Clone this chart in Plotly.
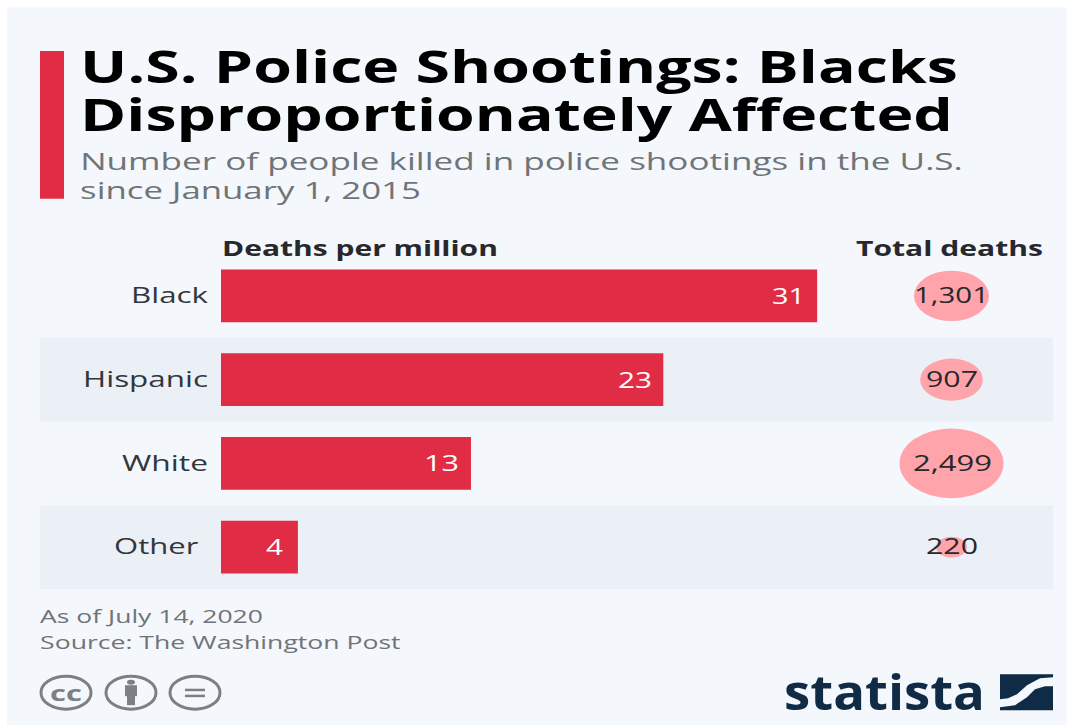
import json
import plotly.graph_objects as go

categories = ["Black", "Hispanic", "White", "Other"]
deaths_per_million = [31, 23, 13, 4]
total_deaths = [1301, 907, 2499, 220]
title_lines = ["U.S. Police Shootings: Blacks", "Disproportionately Affected"]
subtitle_lines = ["Number of people killed in police shootings in the U.S.", "since January 1, 2015"]

W, H = 1067, 726
L, R, T, B = 221, 1053, 253.5, 589.5
FONT = "Open Sans"
RED = "#e02d45"
PINK = "#ffa4ab"
NAVY = "#0f2b46"
GREY = "#7d8082"
CARD = "#f4f7fb"
BAND = "#ebf0f6"

def px(x):
    return (x - L) / (R - L)

def py(y):
    return (B - y) / (B - T)

def rect(x0, y0, x1, y1, color, layer="below"):
    return dict(type="rect", xref="paper", yref="paper", x0=px(x0), x1=px(x1), y0=py(y0), y1=py(y1),
                fillcolor=color, line_width=0, layer=layer)

def circle(x0, y0, x1, y1):
    return dict(type="circle", xref="paper", yref="paper", x0=px(x0), x1=px(x1), y0=py(y0), y1=py(y1),
                fillcolor="rgba(0,0,0,0)", line=dict(color=GREY, width=3), layer="above")

def path(points, color):
    d = "M" + " L".join(f"{px(a):.5f},{py(b):.5f}" for a, b in points) + " Z"
    return dict(type="path", xref="paper", yref="paper", path=d, fillcolor=color, line_width=0, layer="above")

def label(x, y, text, size, color, bold=False, anchor="left", family=FONT):
    return dict(xref="paper", yref="paper", x=px(x), y=py(y), text=f"<b>{text}</b>" if bold else text,
                showarrow=False, xanchor=anchor, yanchor="middle",
                font=dict(family=family, size=size, color=color))

fig = go.Figure()
fig.add_trace(go.Bar(
    x=deaths_per_million, y=categories, orientation="h",
    marker=dict(color=RED, line_width=0),
    text=[str(v) for v in deaths_per_million], textposition="inside",
    insidetextanchor="end", constraintext="none", textangle=0,
    textfont=dict(family=FONT, size=21, color="white"), xaxis="x", yaxis="y", showlegend=False,
))
fig.add_trace(go.Scatter(
    x=[0] * 4, y=categories, mode="text", text=[f"{v:,}" for v in total_deaths],
    textposition="middle center", textfont=dict(family=FONT, size=21, color="#26282b"),
    xaxis="x2", yaxis="y", showlegend=False,
))

shapes = [rect(7, 6, 1067, 726, CARD), rect(40, 50, 64, 198, RED)]
for i in (1, 3):
    shapes.append(dict(type="rect", xref="paper", yref="y", x0=px(40), x1=1, y0=i - 0.5, y1=i + 0.5,
                       fillcolor=BAND, line_width=0, layer="below"))
for i, v in enumerate(total_deaths):
    rx, ry = 1.04 * v ** 0.5, 0.7 * v ** 0.5 / 84
    shapes.append(dict(type="circle", xref="x2", yref="y", x0=-rx, x1=rx, y0=i - ry, y1=i + ry,
                       fillcolor=PINK, line_width=0, layer="below"))

# licence icons
shapes += [circle(41, 677, 91, 710), circle(106, 677, 156, 710), circle(170, 677, 220, 710)]
shapes += [rect(185, 689.5, 205, 692, GREY, "above"), rect(185, 695.5, 205, 698, GREY, "above")]
shapes += [dict(type="circle", xref="paper", yref="paper", x0=px(127), x1=px(135), y0=py(680.5), y1=py(685.5),
                fillcolor=GREY, line_width=0, layer="above"),
           rect(125, 686, 137, 697, GREY, "above"), rect(127, 696, 135, 706, GREY, "above")]
# statista mark
shapes += [
    path([(1000, 675), (1053, 675), (1053, 678), (1040, 679), (1027, 686), (1017, 695), (1008, 699), (1000, 700)], NAVY),
    path([(1000, 711), (1000, 708), (1015, 706), (1027, 698), (1035, 690), (1045, 687), (1053, 687), (1053, 711)], NAVY),
]

annotations = [
    label(80, 64.5, title_lines[0], 45, "#000000", True),
    label(80, 112.5, title_lines[1], 45, "#000000", True),
    label(80, 160, subtitle_lines[0], 24, "#6f7478"),
    label(80, 189, subtitle_lines[1], 24, "#6f7478"),
    label(222, 247, "Deaths per million", 21, "#26282b", True),
    label(1043, 247, "Total deaths", 21, "#26282b", True, "right"),
    label(40, 617, "As of July 14, 2020", 19, "#6f7478"),
    label(40, 643, "Source: The Washington Post", 19, "#6f7478"),
    label(66, 693, "cc", 22, GREY, True, "center"),
    label(985, 692, "statista", 48, NAVY, True, "right"),
]

fig.update_layout(
    width=W, height=H, autosize=False,
    margin=dict(l=L, r=W - R, t=T, b=H - B, pad=0),
    paper_bgcolor="white", plot_bgcolor="rgba(0,0,0,0)",
    bargap=0.369, shapes=shapes, annotations=annotations, showlegend=False,
    xaxis=dict(domain=[0, 1], range=[0, (R - L) / 19.23], visible=False, fixedrange=True),
    xaxis2=dict(domain=[px(850), 1], range=[-101.5, 101.5], visible=False, anchor="y", fixedrange=True),
    yaxis=dict(type="category", categoryorder="array", categoryarray=categories, range=[3.5, -0.5],
               showgrid=False, zeroline=False, showline=False, ticks="outside", ticklen=13,
               tickcolor="rgba(0,0,0,0)", tickfont=dict(family=FONT, size=21, color="#33363a"), fixedrange=True),
)

# The reference image is stretched sideways, so each text run is widened to the extent it has there.
# Entries are [left, right, vertical nudge]; tick labels sit in the page bottom-up.
fits = {
    ".annotation-text": [[80, 958, 0], [80, 953, 0], [80, 963, 0], [80, 421, 0], [222, 498, 0], [856, 1043, 0],
                         [40, 263, 0], [40, 401, 0], [50, 82, 0], [784, 985, 0]],
    ".ytick text": [[114, 199, 0], [122, 208, 0], [83, 208, 0], [131, 208, 0]],
    "text.bartext": [[772, 805, 0], [618, 652, 0], [424, 459, 0], [266, 283, 0]],
    ".textpoint text": [[914, 989, 2], [926, 978, 2], [913, 992, 2], [926, 978, 2]],
}
post = """
document.body.style.margin='0';document.body.style.overflow='hidden';
var fits=%s;
Object.keys(fits).forEach(function(sel){
  var els=document.querySelectorAll(sel);
  fits[sel].forEach(function(f,i){
    var el=els[i]; if(!el) return;
    var r=el.getBoundingClientRect(), sx=(f[1]-f[0])/r.width, pe=el.parentNode.getScreenCTM().e;
    var old=el.getAttribute('transform')||'';
    el.setAttribute('transform','translate('+(f[0]-pe+sx*(pe-r.left))+','+f[2]+') scale('+sx+',1) '+old);
  });
});
""" % json.dumps(fits)

fig.write_html("out.html", config=dict(displayModeBar=False), post_script=post)
